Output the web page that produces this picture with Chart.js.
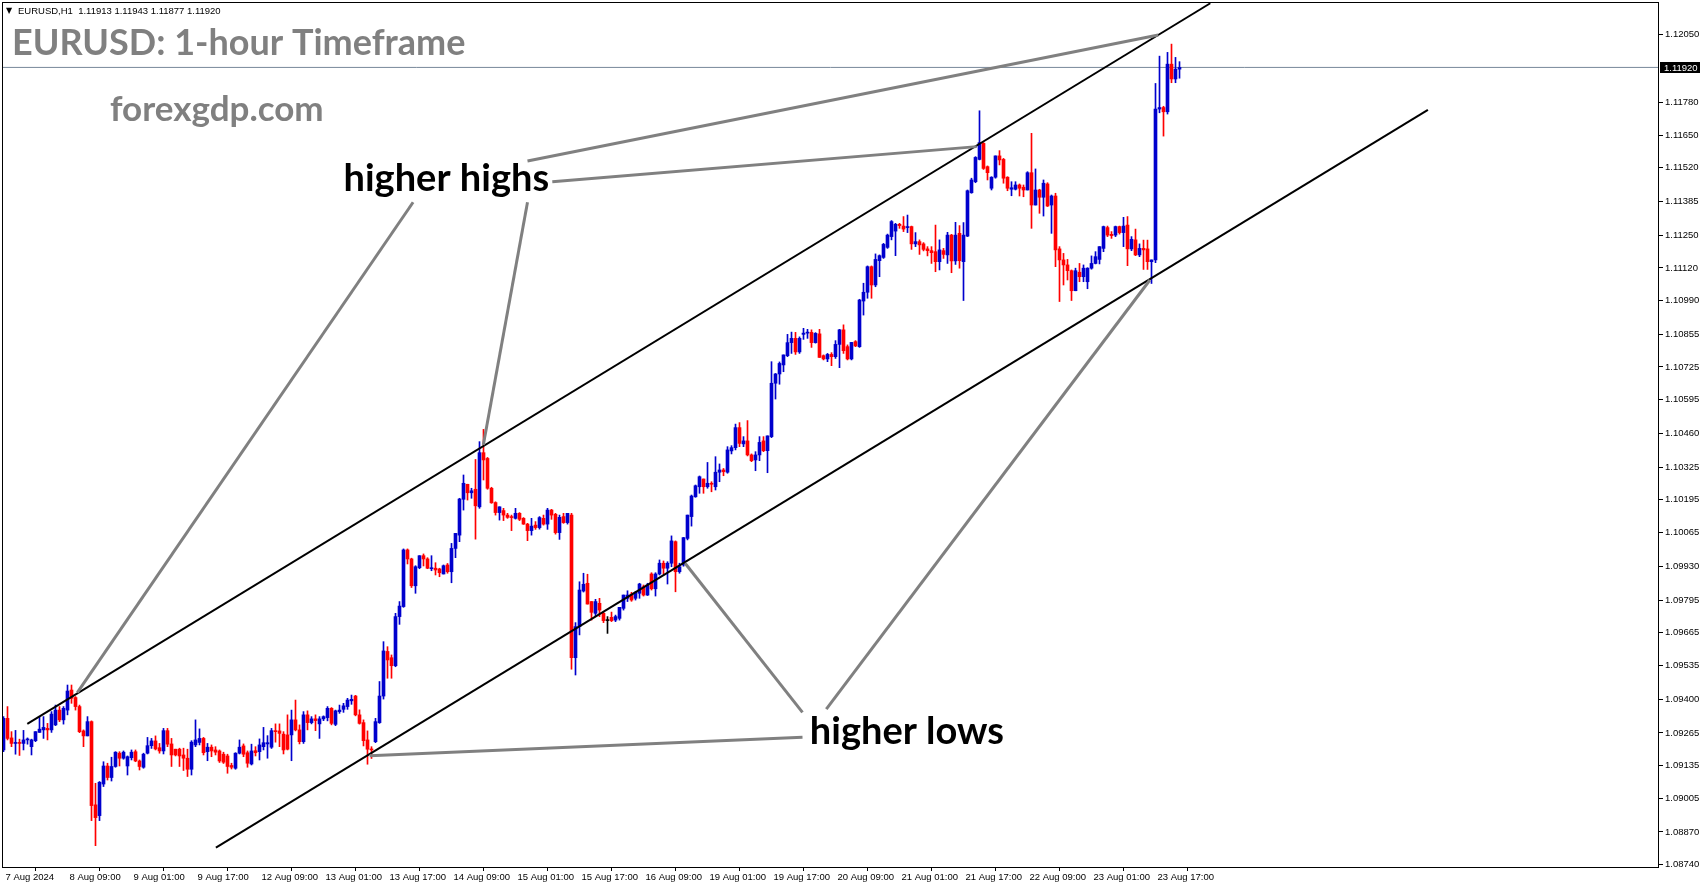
<!DOCTYPE html>
<html>
<head>
<meta charset="utf-8">
<script src="https://cdn.jsdelivr.net/npm/chart.js@4.4.1/dist/chart.umd.min.js"></script>
<style>
  html, body { margin: 0; padding: 0; background: #fff; overflow: hidden; }
  canvas { display: block; }
</style>
</head>
<body>
<canvas id="eurusdChart" width="1705" height="888"></canvas>
<script>
// EURUSD H1 bars, 7 Aug 17:00 .. 23 Aug 22:00 (bar index = hour count from first bar)
const opens = [
  1.09197,1.09323,1.09245,1.09223,1.09225,1.09223,1.09237,1.09210,1.09234,1.09267,
  1.09277,1.09283,1.09277,1.09297,1.09356,1.09317,1.09356,1.09436,1.09406,1.09370,
  1.09273,1.09253,1.09310,1.08978,1.08935,1.09061,1.09133,1.09087,1.09131,1.09184,
  1.09164,1.09133,1.09166,1.09190,1.09153,1.09128,1.09184,1.09214,1.09233,1.09206,
  1.09193,1.09274,1.09221,1.09200,1.09200,1.09177,1.09164,1.09120,1.09217,1.09227,
  1.09243,1.09190,1.09208,1.09197,1.09193,1.09180,1.09173,1.09135,1.09124,1.09184,
  1.09213,1.09186,1.09141,1.09194,1.09190,1.09210,1.09221,1.09208,1.09274,1.09273,
  1.09260,1.09257,1.09257,1.09317,1.09277,1.09230,1.09337,1.09306,1.09321,1.09301,
  1.09321,1.09326,1.09363,1.09299,1.09350,1.09359,1.09370,1.09393,1.09412,1.09337,
  1.09306,1.09237,1.09200,1.09230,1.09306,1.09412,1.09590,1.09565,1.09533,1.09729,
  1.09769,1.09995,1.09959,1.09852,1.09924,1.09972,1.09959,1.09920,1.09922,1.09919,
  1.09899,1.09935,1.09908,1.10001,1.10054,1.10197,1.10257,1.10223,1.10237,1.10167,
  1.10383,1.10360,1.10241,1.10184,1.10144,1.10152,1.10134,1.10127,1.10121,1.10141,
  1.10121,1.10098,1.10072,1.10094,1.10084,1.10121,1.10098,1.10154,1.10137,1.10064,
  1.10128,1.10104,1.10134,1.09565,1.09689,1.09831,1.09862,1.09789,1.09742,1.09782,
  1.09742,1.09713,1.09726,1.09715,1.09722,1.09762,1.09802,1.09819,1.09802,1.09822,
  1.09848,1.09815,1.09899,1.09840,1.09899,1.09942,1.09922,1.09942,1.10028,1.09908,
  1.09935,1.10041,1.10128,1.10207,1.10247,1.10278,1.10247,1.10261,1.10247,1.10305,
  1.10314,1.10305,1.10390,1.10403,1.10483,1.10418,1.10430,1.10374,1.10354,1.10374,
  1.10430,1.10391,1.10447,1.10660,1.10697,1.10733,1.10770,1.10822,1.10839,1.10785,
  1.10855,1.10860,1.10863,1.10822,1.10857,1.10770,1.10757,1.10775,1.10766,1.10815,
  1.10873,1.10806,1.10757,1.10826,1.10806,1.10988,1.11023,1.11125,1.11052,1.11149,
  1.11162,1.11202,1.11245,1.11267,1.11294,1.11287,1.11281,1.11285,1.11216,1.11225,
  1.11216,1.11196,1.11189,1.11185,1.11145,1.11189,1.11172,1.11251,1.11148,1.11258,
  1.11145,1.11247,1.11420,1.11464,1.11553,1.11617,1.11524,1.11438,1.11482,1.11567,
  1.11553,1.11482,1.11434,1.11434,1.11451,1.11442,1.11431,1.11500,1.11371,1.11431,
  1.11402,1.11455,1.11371,1.11407,1.11196,1.11152,1.11132,1.11109,1.11029,1.11103,
  1.11085,1.11065,1.11119,1.11138,1.11154,1.11198,1.11281,1.11254,1.11251,1.11285,
  1.11261,1.11291,1.11196,1.11232,1.11172,1.11198,1.11196,1.11145,1.11152,1.11754,
  1.11760,1.11743,1.11933,1.11874,1.11913
];
const highs = [
  1.09330,1.09370,1.09270,1.09275,1.09240,1.09275,1.09245,1.09240,1.09270,1.09327,
  1.09330,1.09303,1.09350,1.09376,1.09370,1.09370,1.09456,1.09456,1.09410,1.09376,
  1.09277,1.09330,1.09313,1.09064,1.09071,1.09150,1.09144,1.09168,1.09190,1.09190,
  1.09193,1.09173,1.09197,1.09197,1.09157,1.09184,1.09247,1.09243,1.09253,1.09223,
  1.09283,1.09283,1.09243,1.09200,1.09204,1.09204,1.09200,1.09234,1.09317,1.09281,
  1.09247,1.09223,1.09217,1.09210,1.09197,1.09188,1.09180,1.09144,1.09186,1.09237,
  1.09221,1.09193,1.09220,1.09210,1.09241,1.09287,1.09254,1.09283,1.09301,1.09301,
  1.09270,1.09337,1.09356,1.09396,1.09297,1.09350,1.09353,1.09330,1.09337,1.09330,
  1.09333,1.09370,1.09366,1.09356,1.09376,1.09383,1.09403,1.09416,1.09415,1.09357,
  1.09317,1.09273,1.09210,1.09323,1.09470,1.09629,1.09609,1.09576,1.09742,1.09789,
  1.09999,1.09999,1.09962,1.09932,1.09972,1.09979,1.09964,1.09972,1.09944,1.09922,
  1.09935,1.09941,1.10021,1.10061,1.10201,1.10294,1.10257,1.10241,1.10356,1.10427,
  1.10476,1.10364,1.10245,1.10187,1.10167,1.10161,1.10141,1.10134,1.10161,1.10144,
  1.10124,1.10101,1.10121,1.10108,1.10128,1.10134,1.10161,1.10157,1.10141,1.10134,
  1.10141,1.10141,1.10141,1.09705,1.09868,1.09902,1.09898,1.09789,1.09798,1.09802,
  1.09747,1.09729,1.09747,1.09735,1.09766,1.09815,1.09832,1.09826,1.09830,1.09862,
  1.09855,1.09862,1.09904,1.09904,1.09955,1.09951,1.09948,1.10051,1.10031,1.09942,
  1.10045,1.10134,1.10214,1.10254,1.10290,1.10278,1.10344,1.10267,1.10367,1.10338,
  1.10320,1.10407,1.10411,1.10497,1.10503,1.10447,1.10511,1.10378,1.10387,1.10447,
  1.10447,1.10450,1.10746,1.10699,1.10745,1.10773,1.10855,1.10864,1.10863,1.10845,
  1.10879,1.10875,1.10873,1.10862,1.10875,1.10773,1.10779,1.10782,1.10830,1.10875,
  1.10893,1.10813,1.10823,1.10830,1.10995,1.11059,1.11128,1.11128,1.11176,1.11172,
  1.11218,1.11255,1.11309,1.11298,1.11298,1.11325,1.11331,1.11287,1.11261,1.11232,
  1.11221,1.11205,1.11205,1.11291,1.11232,1.11198,1.11262,1.11254,1.11302,1.11289,
  1.11301,1.11431,1.11478,1.11564,1.11747,1.11620,1.11527,1.11484,1.11567,1.11588,
  1.11557,1.11484,1.11464,1.11464,1.11455,1.11451,1.11504,1.11657,1.11515,1.11434,
  1.11471,1.11460,1.11411,1.11418,1.11205,1.11178,1.11154,1.11112,1.11119,1.11138,
  1.11132,1.11121,1.11168,1.11185,1.11205,1.11287,1.11287,1.11265,1.11287,1.11287,
  1.11322,1.11325,1.11245,1.11275,1.11216,1.11231,1.11231,1.11152,1.11856,1.11965,
  1.11765,1.11980,1.12013,1.11960,1.11943
];
const lows = [
  1.09190,1.09237,1.09210,1.09180,1.09175,1.09197,1.09220,1.09177,1.09230,1.09267,
  1.09243,1.09237,1.09267,1.09294,1.09310,1.09300,1.09337,1.09383,1.09356,1.09266,
  1.09210,1.09253,1.08915,1.08815,1.08915,1.09051,1.09077,1.09073,1.09128,1.09133,
  1.09160,1.09097,1.09157,1.09150,1.09117,1.09124,1.09181,1.09203,1.09197,1.09184,
  1.09181,1.09210,1.09131,1.09173,1.09131,1.09115,1.09091,1.09097,1.09210,1.09217,
  1.09177,1.09154,1.09170,1.09177,1.09147,1.09143,1.09104,1.09121,1.09120,1.09181,
  1.09170,1.09128,1.09137,1.09173,1.09157,1.09197,1.09164,1.09203,1.09228,1.09210,
  1.09181,1.09197,1.09154,1.09273,1.09221,1.09223,1.09277,1.09301,1.09274,1.09243,
  1.09314,1.09313,1.09297,1.09294,1.09343,1.09347,1.09359,1.09379,1.09333,1.09300,
  1.09213,1.09140,1.09163,1.09226,1.09303,1.09400,1.09483,1.09483,1.09529,1.09698,
  1.09766,1.09939,1.09845,1.09822,1.09920,1.09931,1.09920,1.09912,1.09895,1.09888,
  1.09899,1.09902,1.09864,1.09964,1.10028,1.10154,1.10194,1.10201,1.10038,1.10161,
  1.10274,1.10237,1.10181,1.10134,1.10114,1.10112,1.10121,1.10072,1.10118,1.10112,
  1.10097,1.10032,1.10054,1.10077,1.10078,1.10094,1.10077,1.10117,1.10058,1.10037,
  1.10101,1.10098,1.09519,1.09496,1.09656,1.09827,1.09779,1.09715,1.09729,1.09729,
  1.09705,1.09662,1.09709,1.09709,1.09715,1.09755,1.09789,1.09790,1.09795,1.09802,
  1.09811,1.09813,1.09835,1.09811,1.09895,1.09899,1.09859,1.09928,1.09828,1.09902,
  1.09930,1.10035,1.10090,1.10205,1.10221,1.10221,1.10241,1.10227,1.10234,1.10267,
  1.10291,1.10301,1.10378,1.10394,1.10407,1.10407,1.10370,1.10347,1.10311,1.10351,
  1.10387,1.10303,1.10443,1.10597,1.10656,1.10706,1.10766,1.10779,1.10775,1.10779,
  1.10835,1.10839,1.10803,1.10820,1.10763,1.10753,1.10746,1.10730,1.10759,1.10722,
  1.10779,1.10753,1.10753,1.10806,1.10803,1.10932,1.10999,1.10999,1.11045,1.11085,
  1.11158,1.11198,1.11232,1.11169,1.11278,1.11265,1.11261,1.11194,1.11205,1.11174,
  1.11188,1.11168,1.11138,1.11105,1.11112,1.11158,1.11138,1.11101,1.11134,1.11119,
  1.10990,1.11245,1.11418,1.11460,1.11551,1.11513,1.11471,1.11431,1.11478,1.11531,
  1.11458,1.11428,1.11408,1.11431,1.11407,1.11404,1.11431,1.11278,1.11371,1.11338,
  1.11327,1.11365,1.11258,1.11125,1.10986,1.11052,1.11072,1.10990,1.11029,1.11065,
  1.11065,1.11037,1.11115,1.11136,1.11136,1.11185,1.11245,1.11238,1.11245,1.11255,
  1.11205,1.11129,1.11189,1.11169,1.11165,1.11114,1.11114,1.11058,1.11141,1.11739,
  1.11646,1.11734,1.11859,1.11859,1.11877
];
const closes = [
  1.09323,1.09243,1.09223,1.09225,1.09223,1.09237,1.09240,1.09237,1.09270,1.09280,
  1.09287,1.09277,1.09340,1.09356,1.09317,1.09363,1.09432,1.09403,1.09370,1.09270,
  1.09253,1.09310,1.08975,1.08927,1.09068,1.09133,1.09087,1.09131,1.09188,1.09164,
  1.09188,1.09170,1.09188,1.09153,1.09131,1.09180,1.09214,1.09233,1.09201,1.09193,
  1.09274,1.09220,1.09177,1.09177,1.09173,1.09164,1.09120,1.09228,1.09237,1.09243,
  1.09186,1.09208,1.09193,1.09188,1.09153,1.09148,1.09131,1.09128,1.09184,1.09208,
  1.09180,1.09144,1.09193,1.09186,1.09217,1.09226,1.09226,1.09274,1.09270,1.09263,
  1.09197,1.09200,1.09317,1.09277,1.09230,1.09337,1.09306,1.09321,1.09314,1.09321,
  1.09330,1.09363,1.09303,1.09353,1.09356,1.09373,1.09396,1.09399,1.09337,1.09303,
  1.09234,1.09200,1.09197,1.09310,1.09412,1.09592,1.09556,1.09533,1.09729,1.09771,
  1.09995,1.09959,1.09852,1.09928,1.09972,1.09959,1.09922,1.09924,1.09915,1.09904,
  1.09932,1.09908,1.10001,1.10061,1.10198,1.10261,1.10223,1.10231,1.10171,1.10383,
  1.10354,1.10241,1.10183,1.10144,1.10167,1.10134,1.10125,1.10124,1.10141,1.10117,
  1.10098,1.10072,1.10090,1.10084,1.10124,1.10098,1.10154,1.10134,1.10064,1.10125,
  1.10104,1.10141,1.09565,1.09689,1.09835,1.09858,1.09779,1.09746,1.09789,1.09755,
  1.09713,1.09713,1.09713,1.09729,1.09766,1.09815,1.09815,1.09795,1.09826,1.09859,
  1.09815,1.09855,1.09840,1.09899,1.09942,1.09922,1.09942,1.10031,1.09908,1.09928,
  1.10044,1.10134,1.10210,1.10251,1.10287,1.10247,1.10261,1.10257,1.10305,1.10314,
  1.10307,1.10394,1.10403,1.10483,1.10420,1.10430,1.10374,1.10351,1.10374,1.10424,
  1.10391,1.10450,1.10660,1.10697,1.10739,1.10773,1.10822,1.10839,1.10785,1.10839,
  1.10860,1.10863,1.10822,1.10859,1.10763,1.10757,1.10775,1.10766,1.10815,1.10873,
  1.10790,1.10757,1.10823,1.10809,1.10992,1.11023,1.11125,1.11052,1.11154,1.11169,
  1.11214,1.11251,1.11305,1.11294,1.11289,1.11275,1.11285,1.11216,1.11225,1.11212,
  1.11194,1.11189,1.11181,1.11145,1.11192,1.11174,1.11251,1.11148,1.11251,1.11149,
  1.11251,1.11428,1.11471,1.11561,1.11620,1.11517,1.11500,1.11482,1.11567,1.11551,
  1.11478,1.11438,1.11440,1.11451,1.11438,1.11431,1.11500,1.11371,1.11431,1.11402,
  1.11458,1.11367,1.11407,1.11192,1.11152,1.11132,1.11109,1.11029,1.11109,1.11085,
  1.11119,1.11119,1.11138,1.11165,1.11205,1.11285,1.11251,1.11249,1.11285,1.11261,
  1.11287,1.11196,1.11234,1.11172,1.11198,1.11192,1.11145,1.11152,1.11754,1.11760,
  1.11743,1.11933,1.11874,1.11913,1.11920
];

// time axis: a label every 16 bars
const timeTickBars = [0,16,32,48,64,80,96,112,128,144,160,176,192,208,224,240,256,272,288];
const timeTickLabels = ['7 Aug 2024','8 Aug 09:00','9 Aug 01:00','9 Aug 17:00','12 Aug 09:00',
  '13 Aug 01:00','13 Aug 17:00','14 Aug 09:00','15 Aug 01:00','15 Aug 17:00','16 Aug 09:00',
  '19 Aug 01:00','19 Aug 17:00','20 Aug 09:00','21 Aug 01:00','21 Aug 17:00','22 Aug 09:00',
  '23 Aug 01:00','23 Aug 17:00'];

// price axis
const priceTicks = [1.12050,1.11780,1.11650,1.11520,1.11385,1.11250,1.11120,1.10990,1.10855,
  1.10725,1.10595,1.10460,1.10325,1.10195,1.10065,1.09930,1.09795,1.09665,1.09535,1.09400,
  1.09265,1.09135,1.09005,1.08870,1.08740];
const priceTickLabels = priceTicks.map(v => v.toFixed(5));

// drawn objects, in [bar, price] pairs
const channelLines = [
  [5.95, 1.09301, 301.7, 1.12176],
  [53.1, 1.08807, 356.1, 1.11751]
];
const pointerLines = [
  [102.4, 1.11382, 18.45, 1.09426],
  [131.0, 1.11382, 119.95, 1.10414],
  [137.2, 1.11464, 243.3, 1.11604],
  [131.0, 1.11547, 288.7, 1.12049],
  [199.75, 1.09248, 91.55, 1.09174],
  [199.75, 1.09347, 170.4, 1.09942],
  [205.7, 1.09360, 286.6, 1.11072]
];
const notes = [
  { text: 'higher highs', bar: 110.7, price: 1.11425 },
  { text: 'higher lows', bar: 225.85, price: 1.09222 }
];

const BULL = '#0000cd';
const BEAR = '#ff0000';
const X_MIN = -0.375, X_MAX = 413.875;
const Y_MIN = 1.08730, Y_MAX = 1.12181;

const last = closes.length - 1;
const lastPrice = closes[last];
const candleColors = closes.map((c, i) => c > opens[i] ? BULL : (c < opens[i] ? BEAR : '#000'));

const lineSet = (pts, color, width, order) => ({
  type: 'line',
  data: [{ x: pts[0], y: pts[1] }, { x: pts[2], y: pts[3] }],
  borderColor: color,
  borderWidth: width,
  pointRadius: 0,
  order
});

const datasets = [
  {
    label: 'wicks',
    data: lows.map((l, i) => ({ x: i, y: [l, highs[i]] })),
    backgroundColor: candleColors,
    barThickness: 1,
    grouped: false,
    order: 4
  },
  {
    label: 'bodies',
    data: opens.map((o, i) => ({ x: i, y: [o, closes[i]] })),
    backgroundColor: candleColors,
    barThickness: 3,
    minBarLength: 1,
    grouped: false,
    order: 3
  },
  lineSet([X_MIN, lastPrice, X_MAX, lastPrice], '#778899', 1, 5),
  ...channelLines.map(l => lineSet(l, '#000', 2, 1)),
  ...pointerLines.map(l => lineSet(l, '#808080', 3, 0))
];

const framePlugin = {
  id: 'frame',
  afterDatasetsDraw(chart) {
    const { ctx, chartArea: a } = chart;
    ctx.save();
    ctx.strokeStyle = '#000';
    ctx.lineWidth = 1;
    ctx.strokeRect(a.left + 0.5, a.top + 0.5, a.right - a.left - 1, a.bottom - a.top);
    ctx.restore();
  }
};

const textPlugin = {
  id: 'texts',
  afterDraw(chart) {
    const { ctx, chartArea: a, scales: { x, y } } = chart;
    ctx.save();
    ctx.textBaseline = 'alphabetic';
    ctx.fillStyle = '#000';
    ctx.font = '8px "DejaVu Sans"';
    ctx.fillText('\u25BC', 6, 13);
    ctx.font = '9.5px "Liberation Sans"';
    ctx.fillText('EURUSD,H1  ' + [opens[last], highs[last], lows[last], closes[last]]
      .map(v => v.toFixed(5)).join(' '), 18, 14);

    ctx.fillStyle = '#808080';
    ctx.font = 'bold 36px Lato';
    ctx.fillText('EURUSD: 1-hour Timeframe', 12, 55);
    ctx.font = 'bold 35px Lato';
    ctx.fillText('forexgdp.com', 110, 121);

    ctx.fillStyle = '#000';
    ctx.font = 'bold 38px Lato';
    ctx.textAlign = 'center';
    notes.forEach(n => ctx.fillText(n.text, x.getPixelForValue(n.bar), y.getPixelForValue(n.price)));

    // current price tag
    const py = Math.round(y.getPixelForValue(lastPrice));
    ctx.fillStyle = '#000';
    ctx.fillRect(a.right + 1, py - 5, 40, 11);
    ctx.fillStyle = '#fff';
    ctx.textAlign = 'left';
    ctx.textBaseline = 'middle';
    ctx.font = '9.5px "Liberation Sans"';
    ctx.fillText(lastPrice.toFixed(5), a.right + 5, py + 1);
    ctx.restore();
  }
};

new Chart(document.getElementById('eurusdChart'), {
  type: 'bar',
  data: { datasets },
  options: {
    responsive: false,
    animation: false,
    devicePixelRatio: 1,
    layout: { padding: { left: 2, top: 2, right: 0, bottom: 0 } },
    plugins: { legend: { display: false }, tooltip: { enabled: false } },
    scales: {
      x: {
        type: 'linear',
        min: X_MIN,
        max: X_MAX,
        offset: false,
        border: { display: false },
        grid: { drawOnChartArea: false, drawTicks: true, tickLength: 4, color: '#000' },
        afterBuildTicks: s => { s.ticks = timeTickBars.map(v => ({ value: v })); },
        afterFit: s => { s.height = 21; s.paddingLeft = 0; s.paddingRight = 0; },
        ticks: {
          autoSkip: false,
          maxRotation: 0,
          align: 'start',
          labelOffset: 2,
          padding: 1,
          color: '#000',
          font: { family: 'Liberation Sans', size: 9.5 },
          callback: (v, i) => timeTickLabels[i]
        }
      },
      y: {
        type: 'linear',
        position: 'right',
        min: Y_MIN,
        max: Y_MAX,
        border: { display: false },
        grid: { drawOnChartArea: false, drawTicks: true, tickLength: 4, color: '#000' },
        afterBuildTicks: s => { s.ticks = priceTicks.map(v => ({ value: v })); },
        afterFit: s => { s.width = 46; s.paddingTop = 0; s.paddingBottom = 0; },
        ticks: {
          autoSkip: false,
          padding: 2,
          color: '#000',
          font: { family: 'Liberation Sans', size: 9.5 },
          callback: (v, i) => priceTickLabels[i]
        }
      }
    }
  },
  plugins: [framePlugin, textPlugin]
});
</script>
</body>
</html>
